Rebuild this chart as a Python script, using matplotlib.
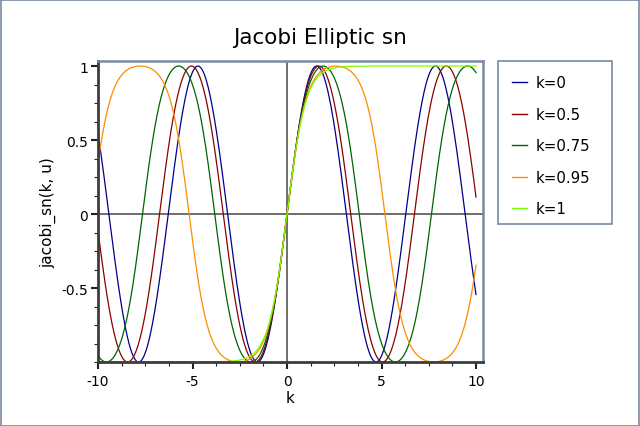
import numpy as np
import matplotlib
matplotlib.use("Agg")
import matplotlib.pyplot as plt
from matplotlib.patches import Rectangle

# chart data
k_values = [0.0, 0.5, 0.75, 0.95, 1.0]
labels = ["k=0", "k=0.5", "k=0.75", "k=0.95", "k=1"]
colors = ["#00008b", "#8b0000", "#006400", "#ff8c00", "#7cfc00"]
u_range = [-10.0, 10.0]
x_ticks = [-10, -5, 0, 5, 10]
x_ticklabels = ["-10", "-5", "0", "5", "10"]
y_ticks = [-0.5, 0, 0.5, 1]
y_ticklabels = ["-0.5", "0", "0.5", "1"]


def jacobi_sn(k, u):
    # descending Landen / AGM (Abramowitz & Stegun 16.4)
    m = k * k
    if m >= 1.0:
        return np.tanh(u)
    if m == 0.0:
        return np.sin(u)
    a, b, c = [1.0], [np.sqrt(1 - m)], [np.sqrt(m)]
    while abs(c[-1]) > 1e-15:
        an = (a[-1] + b[-1]) / 2
        bn = np.sqrt(a[-1] * b[-1])
        cn = (a[-1] - b[-1]) / 2
        a.append(an); b.append(bn); c.append(cn)
    n = len(a) - 1
    phi = (2 ** n) * a[n] * u
    for i in range(n, 0, -1):
        phi = (phi + np.arcsin(c[i] / a[i] * np.sin(phi))) / 2
    return np.sin(phi)


frame_col = "#7a8aa0"
axis_col = "#3c3c3c"
W, H = 640, 427

fig = plt.figure(figsize=(6.4, 4.27), dpi=100)
fig.patch.set_facecolor("white")
fig.patches.append(Rectangle((0.001, 0.001), 0.997, 0.996, transform=fig.transFigure,
                             fill=False, edgecolor=frame_col, lw=1.2))
# legend box
fig.patches.append(Rectangle((498 / W, 1 - 225 / H), (612 - 498) / W, (225 - 62) / H,
                             transform=fig.transFigure, fill=False,
                             edgecolor=frame_col, lw=1.2))

ax = fig.add_axes([98 / W, 1 - 363 / H, (483 - 98) / W, (363 - 62) / H])

u = np.linspace(u_range[0], u_range[1], 2000)
for k, lab, col in zip(k_values, labels, colors):
    ax.plot(u, jacobi_sn(k, u), color=col, lw=0.9, label=lab)

ax.axhline(0, color="#555555", lw=1.2, zorder=0)
ax.axvline(0, color="#555555", lw=1.2, zorder=0)

ax.set_xlim(-10, 10.37)
ax.set_ylim(-1, 1.034)
ax.set_xticks(x_ticks)
ax.set_xticklabels(x_ticklabels)
ax.set_yticks(y_ticks)
ax.set_yticklabels(y_ticklabels)
ax.set_xticks(np.arange(-10, 10.01, 1.25), minor=True)
ax.set_yticks(np.arange(-1, 1.01, 0.125), minor=True)
ax.tick_params(which="major", direction="out", length=5, width=1.5, color="#222222",
               labelsize=10, pad=2)
ax.tick_params(axis="x", which="major", pad=4)
ax.tick_params(which="minor", direction="out", length=3, width=0.8, color="#222222")

for s in ["top", "right"]:
    ax.spines[s].set_color(frame_col)
    ax.spines[s].set_linewidth(1.8)
for s in ["left", "bottom"]:
    ax.spines[s].set_color(axis_col)
    ax.spines[s].set_linewidth(2)

ax.set_xlabel("k", fontsize=11, labelpad=1)
ax.set_ylabel("jacobi_sn(k, u)", fontsize=11, labelpad=4)

fig.text(0.5, 1 - 38 / H, "Jacobi Elliptic sn", ha="center", va="center", fontsize=15.5)

leg = fig.legend(loc="upper left", bbox_to_anchor=(498 / W, 1 - 62 / H),
                 fontsize=10.8, frameon=False, handlelength=1.0,
                 handletextpad=0.55, labelspacing=1.1, borderpad=0.95,
                 borderaxespad=0)
for line in leg.get_lines():
    line.set_linewidth(1.0)

fig.savefig("out.png", dpi=100)
